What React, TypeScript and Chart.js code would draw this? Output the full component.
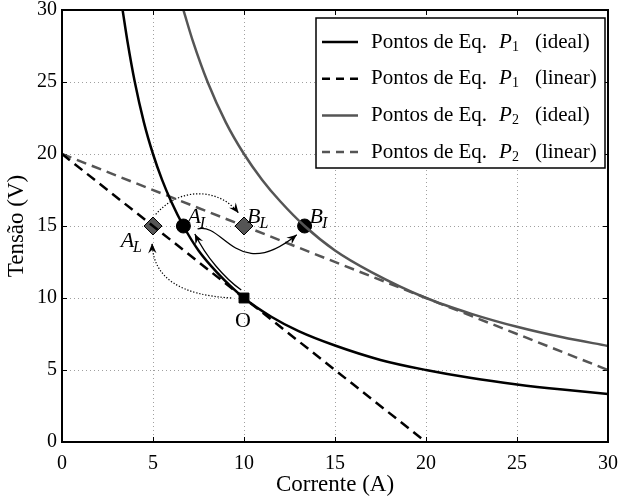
import React, { useEffect, useRef } from 'react';
import { Chart, registerables } from 'chart.js';
Chart.register(...registerables);

// ---- data ----
const tickValues = [0, 5, 10, 15, 20, 25, 30];

const p1IdealI = [3.33, 3.6, 4, 4.5, 5, 5.5, 6, 6.67, 7.5, 8.5, 10, 11.5, 13, 15, 17.5, 20, 22.5, 25, 27.5, 30];
const p1IdealV = [30, 27.8, 25, 22.2, 20, 18.2, 16.7, 15, 13.3, 11.8, 10, 8.7, 7.7, 6.7, 5.7, 5, 4.44, 4, 3.64, 3.33];

const p1LinearI = [0, 20];
const p1LinearV = [20, 0];

const p2IdealI = [6.67, 7.2, 8, 9, 10, 11, 12, 13.33, 15, 17, 20, 22.5, 25, 27.5, 30];
const p2IdealV = [30, 27.8, 25, 22.2, 20, 18.2, 16.7, 15, 13.3, 11.8, 10, 8.9, 8, 7.27, 6.67];

const p2LinearI = [0, 30];
const p2LinearV = [20, 5];

const idealPtsI = [6.67, 13.33];
const idealPtsV = [15, 15];
const linearPtsI = [5, 10];
const linearPtsV = [15, 15];
const originI = [10];
const originV = [10];

const legendLabels = [
  { pre: 'Pontos de Eq.', p: 'P', sub: '1', post: '(ideal)' },
  { pre: 'Pontos de Eq.', p: 'P', sub: '1', post: '(linear)' },
  { pre: 'Pontos de Eq.', p: 'P', sub: '2', post: '(ideal)' },
  { pre: 'Pontos de Eq.', p: 'P', sub: '2', post: '(linear)' },
];

// point annotations: main letter, subscript, anchor (data)
const annoNames = ['A', 'B', 'B', 'A', 'O'];
const annoSubs = ['I', 'L', 'I', 'L', ''];
const annoI = [6.67, 10, 13.33, 5, 10];
const annoV = [15, 15, 15, 15, 10];

// arrows as cubic curves in data units [x0,y0,x1,y1,x2,y2,x3,y3]
const arrowCurves = [
  [9.3, 10.0, 6.6, 10.2, 5.0, 11.3, 4.95, 13.8],
  [5.15, 15.8, 6.4, 17.7, 8.6, 17.7, 9.7, 15.9],
  [9.85, 10.55, 8.9, 11.4, 7.9, 12.9, 7.3, 14.45],
  [7.45, 14.8, 8.9, 15.3, 9.6, 11.0, 12.9, 14.4],
];
const arrowDotted = [true, true, false, false];

const GRAY = '#555555';
const SERIF = '"Liberation Serif", "DejaVu Serif", serif';

const toXY = (xs: number[], ys: number[]) => xs.map((x, i) => ({ x, y: ys[i] }));

const overlayPlugin = {
  id: 'overlay',
  beforeDatasetsDraw(chart: any) {
    const { ctx, chartArea: a, scales } = chart;
    const xs = scales.x, ys = scales.y;
    ctx.save();
    ctx.strokeStyle = '#888';
    ctx.lineWidth = 0.8;
    ctx.setLineDash([1, 3]);
    tickValues.forEach((t) => {
      if (t === 0 || t === 30) return;
      const px = Math.round(xs.getPixelForValue(t)) + 0.5;
      ctx.beginPath(); ctx.moveTo(px, a.top); ctx.lineTo(px, a.bottom); ctx.stroke();
      const py = Math.round(ys.getPixelForValue(t)) + 0.5;
      ctx.beginPath(); ctx.moveTo(a.left, py); ctx.lineTo(a.right, py); ctx.stroke();
    });
    ctx.setLineDash([]);
    ctx.strokeStyle = '#000';
    ctx.lineWidth = 1;
    tickValues.forEach((t) => {
      const px = Math.round(xs.getPixelForValue(t)) + 0.5;
      ctx.beginPath(); ctx.moveTo(px, a.bottom); ctx.lineTo(px, a.bottom - 5); ctx.stroke();
      ctx.beginPath(); ctx.moveTo(px, a.top); ctx.lineTo(px, a.top + 5); ctx.stroke();
      const py = Math.round(ys.getPixelForValue(t)) + 0.5;
      ctx.beginPath(); ctx.moveTo(a.left, py); ctx.lineTo(a.left + 5, py); ctx.stroke();
      ctx.beginPath(); ctx.moveTo(a.right, py); ctx.lineTo(a.right - 5, py); ctx.stroke();
    });
    ctx.restore();
  },
  afterDatasetsDraw(chart: any) {
    const { ctx, scales } = chart;
    const xs = scales.x, ys = scales.y;
    const P = (x: number, y: number) => [xs.getPixelForValue(x), ys.getPixelForValue(y)];
    ctx.save();
    // arrows
    arrowCurves.forEach((c, i) => {
      const [x0, y0] = P(c[0], c[1]);
      const [x1, y1] = P(c[2], c[3]);
      const [x2, y2] = P(c[4], c[5]);
      const [x3, y3] = P(c[6], c[7]);
      ctx.strokeStyle = '#000';
      ctx.lineWidth = arrowDotted[i] ? 1.2 : 1.3;
      ctx.setLineDash(arrowDotted[i] ? [1.3, 1.8] : []);
      ctx.beginPath();
      ctx.moveTo(x0, y0);
      ctx.bezierCurveTo(x1, y1, x2, y2, x3, y3);
      ctx.stroke();
      ctx.setLineDash([]);
      const ang = Math.atan2(y3 - y2, x3 - x2);
      const L = 10, W = 4.2;
      ctx.fillStyle = '#000';
      ctx.beginPath();
      ctx.moveTo(x3, y3);
      ctx.lineTo(x3 - L * Math.cos(ang) + W * Math.sin(ang), y3 - L * Math.sin(ang) - W * Math.cos(ang));
      ctx.lineTo(x3 - 0.65 * L * Math.cos(ang), y3 - 0.65 * L * Math.sin(ang));
      ctx.lineTo(x3 - L * Math.cos(ang) - W * Math.sin(ang), y3 - L * Math.sin(ang) + W * Math.cos(ang));
      ctx.closePath();
      ctx.fill();
    });
    // annotation labels
    const offs = [[4, -3, 'left'], [3, -3, 'left'], [5, -3, 'left'], [-9, 21, 'right'], [-9, 29, 'left']];
    annoNames.forEach((n, i) => {
      const [px, py] = P(annoI[i], annoV[i]);
      const o = offs[i];
      ctx.fillStyle = '#000';
      ctx.textBaseline = 'alphabetic';
      const mainFont = (annoSubs[i] ? 'italic ' : '') + '22px ' + SERIF;
      const subFont = 'italic 16px ' + SERIF;
      ctx.font = mainFont;
      const mw = ctx.measureText(n).width;
      ctx.font = subFont;
      const sw = annoSubs[i] ? ctx.measureText(annoSubs[i]).width : 0;
      let x = px + (o[0] as number);
      if (o[2] === 'right') x -= mw + sw + 1;
      const y = py + (o[1] as number);
      ctx.font = mainFont;
      ctx.textAlign = 'left';
      ctx.fillText(n, x, y);
      if (annoSubs[i]) {
        ctx.font = subFont;
        ctx.fillText(annoSubs[i], x + mw - 1, y + 5);
      }
    });
    ctx.restore();
  },
  afterDraw(chart: any) {
    const { ctx, chartArea: a } = chart;
    ctx.save();
    // frame
    ctx.strokeStyle = '#000';
    ctx.lineWidth = 2;
    ctx.strokeRect(a.left, a.top, a.right - a.left, a.bottom - a.top);
    // legend
    const bx = a.right - 292, by = a.top + 8, bw = 289, bh = 150;
    ctx.fillStyle = '#fff';
    ctx.fillRect(bx, by, bw, bh);
    ctx.lineWidth = 1.5;
    ctx.strokeRect(bx, by, bw, bh);
    const colors = ['#000', '#000', GRAY, GRAY];
    const dashed = [false, true, false, true];
    legendLabels.forEach((lab, i) => {
      const y = by + 24 + i * 36.7;
      ctx.strokeStyle = colors[i];
      ctx.lineWidth = 2.5;
      ctx.setLineDash(dashed[i] ? [8, 6] : []);
      ctx.beginPath(); ctx.moveTo(bx + 6, y); ctx.lineTo(bx + 42, y); ctx.stroke();
      ctx.setLineDash([]);
      ctx.fillStyle = '#000';
      ctx.textBaseline = 'middle';
      ctx.textAlign = 'left';
      let x = bx + 55;
      ctx.font = '21px ' + SERIF;
      ctx.fillText(lab.pre, x, y); x += ctx.measureText(lab.pre).width + 12;
      ctx.font = 'italic 21px ' + SERIF;
      ctx.fillText(lab.p, x, y); x += ctx.measureText(lab.p).width;
      ctx.font = '14px ' + SERIF;
      ctx.fillText(lab.sub, x, y + 5); x += ctx.measureText(lab.sub).width + 16;
      ctx.font = '21px ' + SERIF;
      ctx.fillText(lab.post, x, y);
    });
    ctx.restore();
  },
};

const zeroPad = (s: any) => {
  s.paddingTop = 0; s.paddingBottom = 0; s.paddingLeft = 0; s.paddingRight = 0;
};

export default function App() {
  const ref = useRef<HTMLCanvasElement | null>(null);
  useEffect(() => {
    document.body.style.margin = '0';
    const chart = new Chart(ref.current!, {
      type: 'scatter',
      data: {
        datasets: [
          { data: toXY(p1IdealI, p1IdealV), showLine: true, borderColor: '#000', borderWidth: 2.5, pointRadius: 0, cubicInterpolationMode: 'monotone' } as any,
          { data: toXY(p1LinearI, p1LinearV), showLine: true, borderColor: '#000', borderWidth: 2.5, borderDash: [10, 6], pointRadius: 0 },
          { data: toXY(p2IdealI, p2IdealV), showLine: true, borderColor: GRAY, borderWidth: 2.5, pointRadius: 0, cubicInterpolationMode: 'monotone' } as any,
          { data: toXY(p2LinearI, p2LinearV), showLine: true, borderColor: GRAY, borderWidth: 2.5, borderDash: [10, 6], pointRadius: 0 },
          { data: toXY(linearPtsI, linearPtsV), showLine: false, pointStyle: 'rectRot', pointRadius: 9, backgroundColor: GRAY, borderColor: '#000', borderWidth: 1 },
          { data: toXY(idealPtsI, idealPtsV), showLine: false, pointStyle: 'circle', pointRadius: 7, backgroundColor: '#000', borderColor: '#000', borderWidth: 1 },
          { data: toXY(originI, originV), showLine: false, pointStyle: 'rect', pointRadius: 7, backgroundColor: '#000', borderColor: '#000', borderWidth: 1 },
        ],
      },
      options: {
        responsive: false,
        animation: false,
        devicePixelRatio: 1,
        layout: { padding: { top: 7, right: 12, left: 0, bottom: 0 } },
        plugins: { legend: { display: false }, tooltip: { enabled: false } },
        scales: {
          x: {
            type: 'linear', min: 0, max: 30,
            ticks: { stepSize: 5, color: '#000', font: { family: SERIF, size: 20 }, padding: 10, maxRotation: 0 },
            grid: { display: false, drawTicks: false },
            border: { display: false },
            title: { display: true, text: 'Corrente (A)', color: '#000', font: { family: SERIF, size: 23 }, padding: { top: 0, bottom: 0 } },
            afterFit: (s: any) => { s.height = 57; zeroPad(s); },
          },
          y: {
            type: 'linear', min: 0, max: 30,
            ticks: { stepSize: 5, color: '#000', font: { family: SERIF, size: 20 }, padding: 5 },
            grid: { display: false, drawTicks: false },
            border: { display: false },
            title: { display: true, text: 'Tensão (V)', color: '#000', font: { family: SERIF, size: 23 }, padding: { top: 3, bottom: 0 } },
            afterFit: (s: any) => { s.width = 62; zeroPad(s); },
          },
        },
      },
      plugins: [overlayPlugin],
    });
    return () => chart.destroy();
  }, []);
  return <canvas ref={ref} width={620} height={499} style={{ display: 'block' }} />;
}
